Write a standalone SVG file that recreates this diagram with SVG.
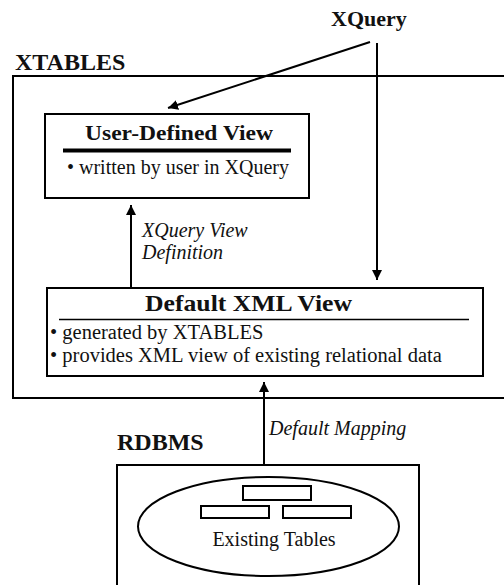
<svg xmlns="http://www.w3.org/2000/svg" width="504" height="585" viewBox="0 0 504 585">
<defs>
<style>
.box{fill:none;stroke:#000;stroke-width:2}
.ln{fill:none;stroke:#000;stroke-width:2}
text{font-family:'Liberation Serif','Times New Roman',serif;fill:#111}
.b{font-weight:bold}
.i{font-style:italic}
</style>
<marker id="ah" viewBox="0 0 10 10" refX="10" refY="5" markerWidth="10" markerHeight="10" markerUnits="userSpaceOnUse" orient="auto">
<path d="M0,0 L10,5 L0,10 Z" fill="#000"/>
</marker>
</defs>
<rect width="504" height="585" fill="#fff"/>
<g id="xquery">
<text class="b" x="331" y="26" font-size="22">XQuery</text>
</g>
<g id="xtables">
<text class="b" x="15" y="70" font-size="24">XTABLES</text>
<rect class="box" x="13" y="76" width="500" height="322"/>
</g>
<g id="user-view">
<rect class="box" x="45" y="114" width="264" height="84"/>
<text class="b" x="85" y="140" font-size="22" textLength="188" lengthAdjust="spacingAndGlyphs">User-Defined View</text>
<line x1="63" y1="150.5" x2="291" y2="150.5" stroke="#000" stroke-width="4"/>
<text x="67" y="174" font-size="20">• written by user in XQuery</text>
</g>
<g id="default-view">
<rect class="box" x="47" y="288" width="436" height="88"/>
<text class="b" x="145" y="311" font-size="23" textLength="207" lengthAdjust="spacingAndGlyphs">Default XML View</text>
<line x1="59" y1="319.5" x2="469" y2="319.5" stroke="#000" stroke-width="1.6"/>
<text x="50" y="339" font-size="20.5">• generated by XTABLES</text>
<text x="50" y="362" font-size="20.5">• provides XML view of existing relational data</text>
</g>
<g id="rdbms">
<text class="b" x="117" y="450" font-size="24">RDBMS</text>
<rect class="box" x="117" y="465" width="302" height="130"/>
<ellipse class="box" cx="268.5" cy="526.5" rx="130.5" ry="49.5"/>
<rect class="box" x="243" y="486" width="68" height="14"/>
<rect class="box" x="201" y="506" width="68" height="12"/>
<rect class="box" x="283" y="506" width="68" height="12"/>
<text x="274" y="546" font-size="20" text-anchor="middle">Existing Tables</text>
</g>
<g id="connectors">
<line class="ln" x1="370" y1="42" x2="168" y2="108" marker-end="url(#ah)"/>
<line class="ln" x1="377" y1="43" x2="377" y2="280" marker-end="url(#ah)"/>
<line class="ln" x1="131" y1="288" x2="131" y2="205" marker-end="url(#ah)"/>
<line class="ln" x1="264" y1="465" x2="264" y2="382" marker-end="url(#ah)"/>
<text class="i" x="142" y="237" font-size="20">XQuery View</text>
<text class="i" x="142" y="259" font-size="20">Definition</text>
<text class="i" x="269" y="435" font-size="20">Default Mapping</text>
</g>
</svg>
